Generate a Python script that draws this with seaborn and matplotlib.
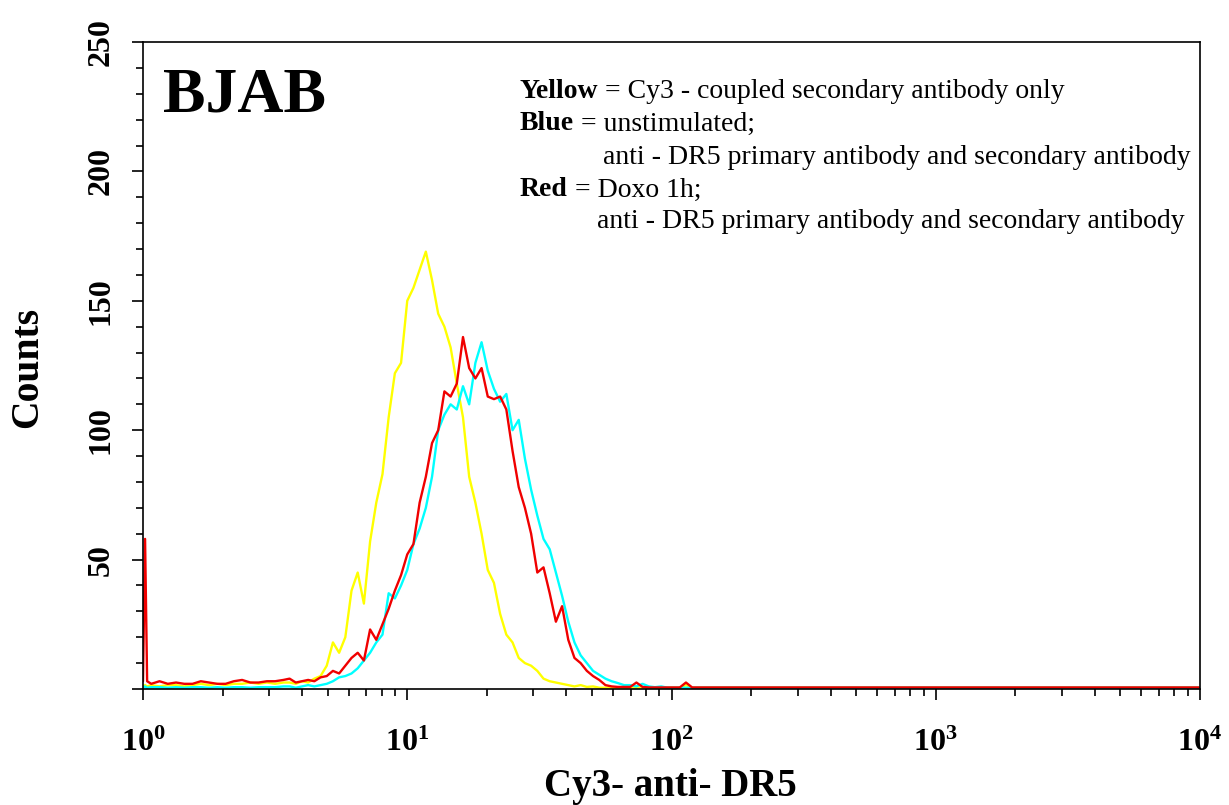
import numpy as np
import pandas as pd
import matplotlib
matplotlib.use("Agg")
import matplotlib.pyplot as plt
import seaborn as sns
from matplotlib.ticker import LogLocator, NullFormatter, MultipleLocator, FixedLocator, FuncFormatter

# Instrument channels (256 channels per decade, 4-decade log amplifier)
channels = [0, 2, 4, 8, 16, 24, 32, 40, 48, 56, 64, 72, 80, 88, 96, 104, 112, 120, 128, 136,
            142, 148, 154, 160, 166, 172, 178, 184, 190, 196, 202, 208, 214, 220, 226, 232,
            238, 244, 250, 256, 262, 268, 274, 280, 286, 292, 298, 304, 310, 316, 322, 328,
            334, 340, 346, 352, 358, 364, 370, 376, 382, 388, 394, 400, 406, 412, 418, 424,
            430, 436, 442, 448, 454, 460, 466, 472, 478, 484, 490, 496, 502, 508, 514, 520,
            526, 532, 538, 544, 550, 556, 562, 568, 574, 580, 586, 592, 598, 604, 610, 616,
            622, 650, 700, 750, 800, 850, 900, 950, 1000, 1023]

# Cy3-coupled secondary antibody only
yellow_counts = [1, 1.5, 1, 1.5, 1, 1.5, 1.5, 1, 1.5, 2, 1.5, 2, 1.5, 2, 2, 2.5, 2, 2.5, 2, 2.5,
                 2.5, 2, 3, 2.5, 4, 5, 9, 18, 14, 20, 38, 45, 33, 57, 72, 83,
                 105, 122, 126, 150, 155, 162, 169, 158, 145, 140, 132, 118, 105, 82, 72, 60,
                 46, 41, 29, 21, 18, 12, 10, 9, 7, 4, 3, 2.5, 2, 1.5, 1, 1.5,
                 0.8, 1, 0.5, 0.5, 0.5, 0.5, 0.5, 0.5, 0.5, 0.5, 0.5, 0.5, 0.5, 0.5, 0.5, 0.5,
                 1.5, 0.5, 0.5, 0.5, 0.5, 0.5, 0.5, 0.5, 0.5, 0.5, 0.5, 0.5, 0.5, 0.5, 0.5, 0.5,
                 0.5, 0.5, 0.5, 0.5, 0.5, 0.5, 0.5, 0.5, 0.5, 0.5]

# Unstimulated, anti-DR5 primary + secondary antibody
blue_counts = [0.5, 1, 0.5, 0.7, 0.7, 0.5, 0.7, 0.5, 0.7, 0.7, 0.5, 0.7, 0.5, 0.7, 0.7, 0.5, 0.7, 0.7, 0.7, 1,
               1, 0.5, 1, 1.5, 1, 1.5, 2, 3, 4.5, 5, 6, 8, 11, 14, 18, 21,
               37, 35, 40, 46, 56, 62, 70, 82, 100, 106, 110, 108, 117, 110, 126, 134,
               123, 116, 111, 114, 100, 104, 89, 77, 67, 58, 54, 45, 36, 26, 18, 13,
               10, 7, 5.5, 4, 3, 2.3, 1.5, 1.5, 1, 2, 1, 0.7, 1, 0.5, 0.5, 0.5,
               0.5, 0.5, 0.5, 0.5, 0.5, 0.5, 0.5, 0.5, 0.5, 0.5, 0.5, 0.5, 0.5, 0.5, 0.5, 0.5,
               0.5, 0.5, 0.5, 0.5, 0.5, 0.5, 0.5, 0.5, 0.5, 0.5]

# Doxo 1h, anti-DR5 primary + secondary antibody
red_counts = [3, 58, 3, 2, 3, 2, 2.5, 2, 2, 3, 2.5, 2, 2, 3, 3.5, 2.5, 2.5, 3, 3, 3.5,
              4, 2.5, 3, 3.5, 3, 4.5, 5, 7, 6, 9, 12, 14, 11, 23, 19, 25,
              31, 38, 44, 52, 56, 72, 82, 95, 100, 115, 113, 118, 136, 124, 120, 124,
              113, 112, 113, 108, 92, 78, 70, 60, 45, 47, 37, 26, 32, 19, 12, 10,
              7, 5, 3.5, 1.5, 1, 0.8, 0.8, 0.8, 2.5, 0.8, 0.6, 0.6, 0.6, 0.6, 0.6, 0.6,
              2.5, 0.6, 0.6, 0.6, 0.6, 0.6, 0.6, 0.6, 0.6, 0.6, 0.6, 0.6, 0.6, 0.6, 0.6, 0.6,
              0.6, 0.6, 0.6, 0.6, 0.6, 0.6, 0.6, 0.6, 0.6, 0.6]

sample_names = ["Yellow", "Blue", "Red"]
sample_colors = ["#FFFF00", "#00FFFF", "#F00000"]

x_decades = [0, 1, 2, 3, 4]
y_major = [0, 50, 100, 150, 200, 250]

sns.set_theme(style="white")
plt.rcParams["font.family"] = ["Liberation Serif", "DejaVu Serif"]
plt.rcParams["mathtext.fontset"] = "custom"
plt.rcParams["mathtext.rm"] = "Liberation Serif:bold"
plt.rcParams["mathtext.it"] = "Liberation Serif:bold"
plt.rcParams["mathtext.bf"] = "Liberation Serif:bold"

fluor = 10 ** (np.asarray(channels, dtype=float) / 256.0)
frames = []
for name, counts in zip(sample_names, [yellow_counts, blue_counts, red_counts]):
    frames.append(pd.DataFrame({"fluor": fluor, "counts": counts, "sample": name}))
df = pd.concat(frames, ignore_index=True)

fig = plt.figure(figsize=(12.29, 8.05), dpi=100)
fig.patch.set_facecolor("white")
ax = fig.add_axes([143 / 1229, 1 - 689 / 805, 1057 / 1229, 647 / 805])

sns.lineplot(data=df, x="fluor", y="counts", hue="sample", hue_order=sample_names,
             palette=dict(zip(sample_names, sample_colors)), estimator=None, sort=False,
             linewidth=1.7, legend=False, ax=ax)

ax.set_xscale("log")
ax.set_xlim(1, 1e4)
ax.set_ylim(0, 250)

ax.xaxis.set_major_locator(FixedLocator([10 ** d for d in x_decades]))
ax.xaxis.set_major_formatter(FuncFormatter(lambda v, p: r"$10^{%d}$" % round(np.log10(v))))
ax.xaxis.set_minor_locator(LogLocator(base=10, subs=np.arange(2, 10)))
ax.xaxis.set_minor_formatter(NullFormatter())

ax.yaxis.set_major_locator(FixedLocator(y_major))
ax.yaxis.set_major_formatter(FuncFormatter(lambda v, p: "" if v == 0 else "%d" % v))
ax.yaxis.set_minor_locator(MultipleLocator(10))

ax.tick_params(which="both", direction="out", bottom=True, left=True, top=False, right=False,
               color="black", width=1.2)
ax.tick_params(which="major", length=8)
ax.tick_params(which="minor", length=5)
ax.tick_params(axis="x", which="major", pad=21, labelsize=23, labelcolor="black")
ax.tick_params(axis="y", which="major", pad=12, labelsize=23, labelcolor="black", labelrotation=90)
for lbl in ax.get_yticklabels():
    lbl.set_fontweight("bold")
    lbl.set_va("center")

for sp in ax.spines.values():
    sp.set_color("black")
    sp.set_linewidth(1.2)

ax.set_xlabel("")
ax.set_ylabel("")
fig.text(28 / 1229, 1 - 367 / 805, "Counts", rotation=90, ha="center", va="center",
         fontsize=28.5, fontweight="bold", color="black")
fig.text(670 / 1229, 1 - 786 / 805, "Cy3- anti- DR5", ha="center", va="center",
         fontsize=28, fontweight="bold", color="black")

ax.text(163 / 1229, 1 - 97 / 805, "BJAB", transform=fig.transFigure, ha="left", va="center",
        fontsize=46, fontweight="bold", color="black")

fs = 20
legend_rows = [
    (520, 91, "Yellow", " = Cy3 - coupled secondary antibody only"),
    (520, 124, "Blue", " = unstimulated;"),
    (603, 157, None, "anti - DR5 primary antibody and secondary antibody"),
    (520, 190, "Red", " = Doxo 1h;"),
    (597, 222, None, "anti - DR5 primary antibody and secondary antibody"),
]
for px, py, bold_word, rest in legend_rows:
    if bold_word is None:
        fig.text(px / 1229, 1 - py / 805, rest, ha="left", va="center", fontsize=fs, color="black")
    else:
        t = fig.text(px / 1229, 1 - py / 805, bold_word, ha="left", va="center",
                     fontsize=fs, fontweight="bold", color="black")
        ax.annotate(rest, xy=(1, 0), xycoords=t, ha="left", va="bottom",
                    fontsize=fs, color="black", annotation_clip=False)

fig.savefig("out.png", dpi=100, facecolor="white")
